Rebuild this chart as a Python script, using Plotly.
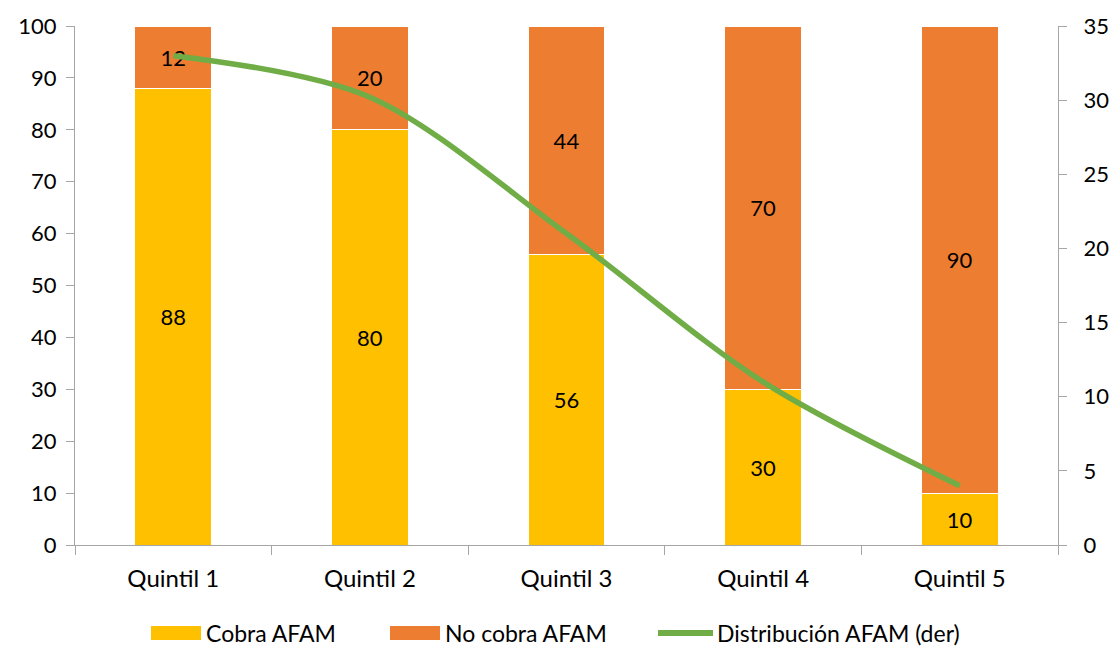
import plotly.graph_objects as go

categories = ["Quintil 1", "Quintil 2", "Quintil 3", "Quintil 4", "Quintil 5"]
cobra = [88, 80, 56, 30, 10]
no_cobra = [12, 20, 44, 70, 90]
distribucion = [33, 30.2, 21, 11, 4]

legend_labels = ["Cobra AFAM", "No cobra AFAM", "Distribución AFAM (der)"]

FONT = "Lato, 'Noto Sans', sans-serif"
YELLOW = "#FFC000"
ORANGE = "#ED7D31"
GREEN = "#70AD47"
AXIS = "#A6A6A6"

fig = go.Figure()
fig.add_trace(go.Bar(
    x=categories, y=cobra, name=legend_labels[0],
    marker=dict(color=YELLOW, line=dict(color="white", width=1)),
    text=[str(v) for v in cobra], textposition="inside",
    insidetextanchor="middle", textangle=0,
    textfont=dict(color="black", size=22, family=FONT),
))
fig.add_trace(go.Bar(
    x=categories, y=no_cobra, name=legend_labels[1],
    marker=dict(color=ORANGE, line=dict(color="white", width=1)),
    text=[str(v) for v in no_cobra], textposition="inside",
    insidetextanchor="middle", textangle=0,
    textfont=dict(color="black", size=22, family=FONT),
))
fig.add_trace(go.Scatter(
    x=categories, y=distribucion, name=legend_labels[2],
    mode="lines", yaxis="y2",
    line=dict(color=GREEN, width=5.5, shape="spline", smoothing=0.9),
))

# Legend row drawn below the plot area (paper coordinates)
plot_l, plot_r, plot_t, plot_b = 75, 1058, 26, 545
def px_x(px):
    return (px - plot_l) / (plot_r - plot_l)
def px_y(py):
    return (plot_b - py) / (plot_b - plot_t)

legend_y = 633
swatches = [
    (151, 201, YELLOW, "rect"),
    (390, 440, ORANGE, "rect"),
    (658, 713, GREEN, "line"),
]
text_x = [205, 444, 716]
shapes = []
annotations = []
for (x0, x1, col, kind), tx, lab in zip(swatches, text_x, legend_labels):
    if kind == "rect":
        shapes.append(dict(
            type="rect", xref="paper", yref="paper",
            x0=px_x(x0), x1=px_x(x1), y0=px_y(legend_y + 7), y1=px_y(legend_y - 7),
            fillcolor=col, line=dict(width=0),
        ))
    else:
        shapes.append(dict(
            type="line", xref="paper", yref="paper",
            x0=px_x(x0), x1=px_x(x1), y0=px_y(legend_y), y1=px_y(legend_y),
            line=dict(color=col, width=6),
        ))
    annotations.append(dict(
        text=lab, xref="paper", yref="paper", x=px_x(tx), y=px_y(legend_y),
        xanchor="left", yanchor="middle", showarrow=False, borderpad=0,
        font=dict(size=23, family=FONT, color="black"),
    ))

fig.update_layout(
    width=1115, height=647,
    margin=dict(l=plot_l, r=1115 - plot_r, t=plot_t, b=647 - plot_b),
    barmode="stack", bargap=0.61,
    paper_bgcolor="white", plot_bgcolor="white",
    font=dict(family=FONT, size=20, color="black"),
    showlegend=False,
    shapes=shapes,
    annotations=annotations,
    xaxis=dict(
        showline=True, linecolor=AXIS, linewidth=1.3,
        ticks="outside", tickson="boundaries", ticklen=9, tickcolor=AXIS,
        tickfont=dict(size=24, family=FONT), showgrid=False,
        ticklabelstandoff=12, automargin=False,
    ),
    yaxis=dict(
        range=[0, 100], dtick=10, showline=True, linecolor=AXIS, linewidth=1.3,
        ticks="outside", ticklen=8, tickcolor=AXIS, showgrid=False,
        tickfont=dict(size=22, family=FONT), zeroline=False,
        ticklabelstandoff=5, automargin=False,
    ),
    yaxis2=dict(
        range=[0, 35], dtick=5, overlaying="y", side="right",
        showline=True, linecolor=AXIS, linewidth=1.3,
        ticks="outside", ticklen=8, tickcolor=AXIS, showgrid=False,
        tickfont=dict(size=22, family=FONT), zeroline=False,
        ticklabelstandoff=12, automargin=False,
    ),
)

fig.write_html("out.html")
